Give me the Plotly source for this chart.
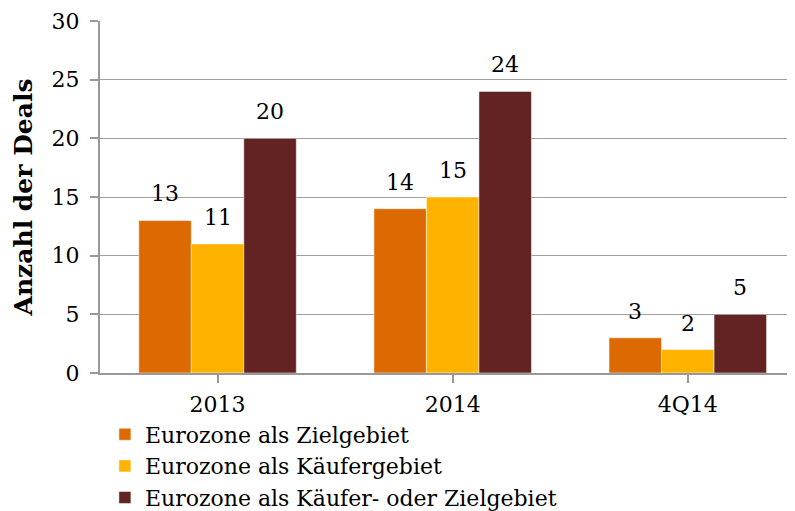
import plotly.graph_objects as go

categories = ["2013", "2014", "4Q14"]
series_names = ["Eurozone als Zielgebiet", "Eurozone als Käufergebiet", "Eurozone als Käufer- oder Zielgebiet"]
ziel = [13, 14, 3]
kaeufer = [11, 15, 2]
beide = [20, 24, 5]
y_ticks = [0, 5, 10, 15, 20, 25, 30]

colors = ["#DD6A00", "#FFB300", "#622322"]
FONT = "DejaVu Serif"
FS = 22
BARGAP = 0.33

fig = go.Figure()
all_series = [ziel, kaeufer, beide]
for name, vals, col in zip(series_names, all_series, colors):
    fig.add_trace(go.Bar(
        x=list(range(len(categories))), y=vals, name=name,
        marker=dict(color=col, line=dict(color="rgba(255,255,255,0.5)", width=1)),
    ))

# data labels above bars (positions derived from the grouped-bar layout)
n = len(all_series)
w = (1 - BARGAP) / n
for j, vals in enumerate(all_series):
    for i, v in enumerate(vals):
        fig.add_annotation(x=i + (j - (n - 1) / 2) * w, y=v, text=str(v),
                           xref="x", yref="y", yanchor="bottom", showarrow=False,
                           yshift=12, font=dict(family=FONT, size=FS, color="black"))

fig.update_layout(
    width=795, height=511,
    margin=dict(l=92, r=0, t=13, b=141),
    paper_bgcolor="white", plot_bgcolor="white",
    barmode="group", bargap=BARGAP, bargroupgap=0,
    font=dict(family=FONT, size=FS, color="black"),
    showlegend=True,
    legend=dict(orientation="v", x=0.007, xanchor="left", y=-0.115, yanchor="top",
                font=dict(family=FONT, size=FS, color="black"),
                itemwidth=30, tracegroupgap=0, bgcolor="rgba(0,0,0,0)"),
    xaxis=dict(
        tickmode="array", tickvals=list(range(len(categories))), ticktext=categories,
        range=[-0.5, 2.49], showgrid=False, showline=True, linecolor="#999999", linewidth=2,
        ticks="outside", ticklen=8, tickcolor="#999999", tickwidth=2,
        tickfont=dict(family=FONT, size=FS, color="black"), automargin=False,
        ticklabelstandoff=3,
    ),
    yaxis=dict(
        range=[0, 30], tickmode="array", tickvals=y_ticks,
        showgrid=True, gridcolor="#A0A0A0", gridwidth=1,
        showline=True, linecolor="#999999", linewidth=2,
        ticks="outside", ticklen=8, tickcolor="#999999", tickwidth=2,
        tickfont=dict(family=FONT, size=FS, color="black"),
        ticklabelstandoff=6, automargin=False,
        title=dict(text="<b>Anzahl der Deals</b>", font=dict(family=FONT, size=25, color="black"), standoff=12),
        zeroline=False,
    ),
)
# category boundary ticks on the x axis
fig.update_xaxes(tickson="boundaries")

fig.write_html("out.html")
